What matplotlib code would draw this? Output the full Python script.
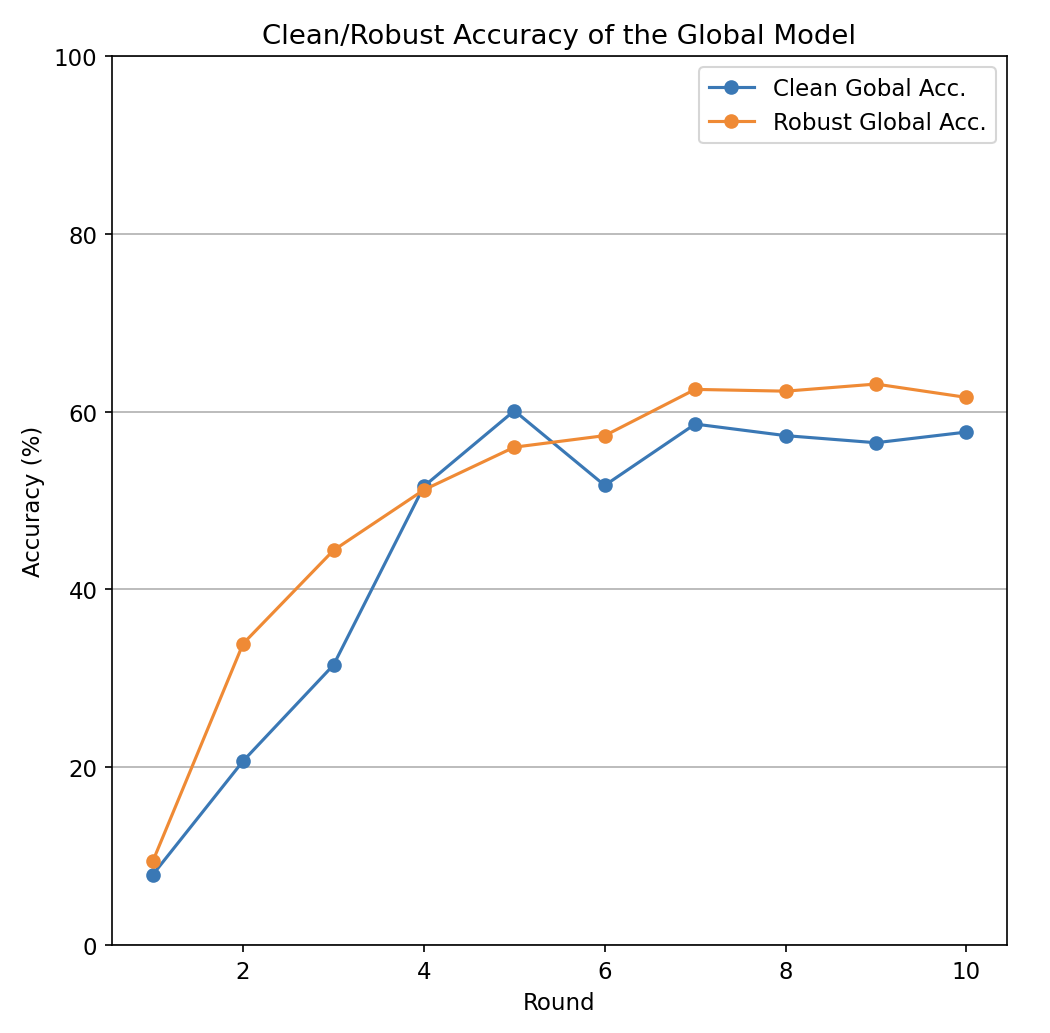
import matplotlib
matplotlib.use("Agg")
import matplotlib.pyplot as plt

rounds = [1, 2, 3, 4, 5, 6, 7, 8, 9, 10]
clean_acc = [7.9, 20.7, 31.5, 51.6, 60.1, 51.7, 58.6, 57.3, 56.5, 57.7]
robust_acc = [9.4, 33.9, 44.4, 51.2, 56.0, 57.3, 62.5, 62.3, 63.1, 61.6]

plt.rcParams["font.size"] = 11

fig = plt.figure(figsize=(7.0, 6.893), dpi=150)
ax = fig.add_axes([0.1067, 0.0851, 0.8524, 0.8598])

ax.plot(rounds, clean_acc, marker="o", color="#3a78b5", label="Clean Gobal Acc.")
ax.plot(rounds, robust_acc, marker="o", color="#ef8a35", label="Robust Global Acc.")

ax.set_ylim(0, 100)
ax.grid(axis="y")
ax.set_xlabel("Round")
ax.set_ylabel("Accuracy (%)")
ax.set_title("Clean/Robust Accuracy of the Global Model")
ax.legend(loc="upper right")

fig.savefig("out.png")
